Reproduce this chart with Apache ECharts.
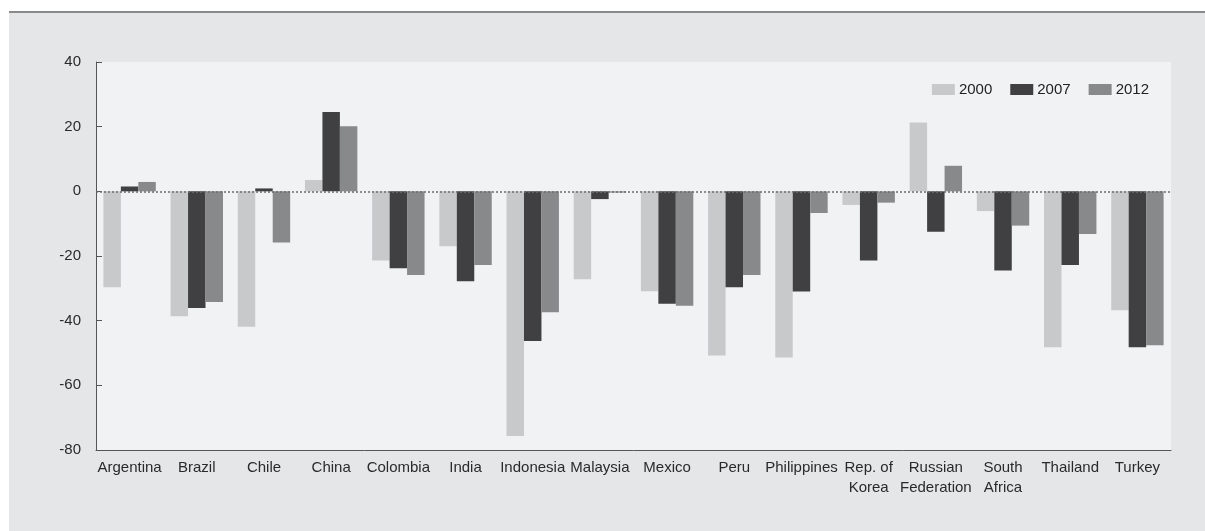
<!DOCTYPE html>
<html>
<head>
<meta charset="utf-8">
<script src="https://cdn.jsdelivr.net/npm/echarts@6/dist/echarts.min.js"></script>
<style>
    html, body {
        margin: 0;
        padding: 0;
        background: #ffffff;
    }
    .frame {
        position: absolute;
        left: 9px;
        top: 11px;
        right: 0;
        bottom: 0;
        background: #e5e6e8;
        border-top: 2px solid #8a8a8a;
    }
    #chart {
        position: absolute;
        left: 0;
        top: 0;
        width: 1205px;
        height: 531px;
    }
</style>
</head>
<body>
<div class="frame"></div>
<div id="chart"></div>
<script>
const categories = ['Argentina', 'Brazil', 'Chile', 'China', 'Colombia', 'India', 'Indonesia', 'Malaysia',
    'Mexico', 'Peru', 'Philippines', 'Rep. of\nKorea', 'Russian\nFederation', 'South\nAfrica', 'Thailand', 'Turkey'];
const years = ['2000', '2007', '2012'];
const values2000 = [-29.7, -38.6, -41.9, 3.5, -21.4, -17.0, -75.7, -27.2, -30.9, -50.8, -51.4, -4.2, 21.3, -6.1, -48.2, -36.8];
const values2007 = [1.5, -36.1, 0.9, 24.5, -23.8, -27.8, -46.3, -2.4, -34.8, -29.7, -31.0, -21.4, -12.5, -24.5, -22.8, -48.2];
const values2012 = [2.9, -34.2, -15.8, 20.1, -25.9, -22.8, -37.4, -0.4, -35.4, -25.9, -6.7, -3.5, 7.9, -10.6, -13.2, -47.6];
const yTicks = { min: -80, max: 40, interval: 20 };

const font = '"Liberation Sans", Arial, sans-serif';
const colors = ['#c8c9cb', '#404042', '#88898b'];

const myChart = echarts.init(document.getElementById('chart'));

const option = {
    animation: false,
    backgroundColor: 'transparent',
    color: colors,
    textStyle: { fontFamily: font },
    grid: {
        left: 96,
        right: 34,
        top: 62,
        bottom: 81,
        show: true,
        backgroundColor: '#f1f2f4',
        borderWidth: 0
    },
    legend: {
        right: 51,
        top: 77,
        itemWidth: 23,
        itemHeight: 11,
        itemGap: 18,
        icon: 'rect',
        textStyle: { fontSize: 15, color: '#222', fontFamily: font, padding: [0, 0, 0, -1] },
        data: years
    },
    xAxis: {
        type: 'category',
        data: categories,
        position: 'bottom',
        axisLine: { onZero: false, lineStyle: { color: '#555', width: 1 } },
        axisTick: { inside: true, length: 6, lineStyle: { color: '#555' } },
        axisLabel: {
            interval: 0,
            fontSize: 15,
            lineHeight: 20,
            color: '#2a2a2a',
            margin: 8,
            fontFamily: font
        }
    },
    yAxis: {
        type: 'value',
        min: yTicks.min,
        max: yTicks.max,
        interval: yTicks.interval,
        axisLine: { show: true, lineStyle: { color: '#555', width: 1 } },
        axisTick: { show: true, inside: true, length: 6, lineStyle: { color: '#555' } },
        axisLabel: { fontSize: 15, color: '#2a2a2a', margin: 15, fontFamily: font },
        splitLine: { show: false }
    },
    series: [
        {
            name: years[0],
            type: 'bar',
            data: values2000,
            barGap: '0%',
            barCategoryGap: '22%',
            markLine: {
                silent: true,
                symbol: 'none',
                label: { show: false },
                z: 10,
                lineStyle: { type: [2, 2], color: '#6e6e6e', width: 1.5 },
                data: [{ yAxis: 0 }]
            }
        },
        { name: years[1], type: 'bar', data: values2007, barGap: '0%', barCategoryGap: '22%' },
        { name: years[2], type: 'bar', data: values2012, barGap: '0%', barCategoryGap: '22%' }
    ]
};

option && myChart.setOption(option);
</script>
</body>
</html>
